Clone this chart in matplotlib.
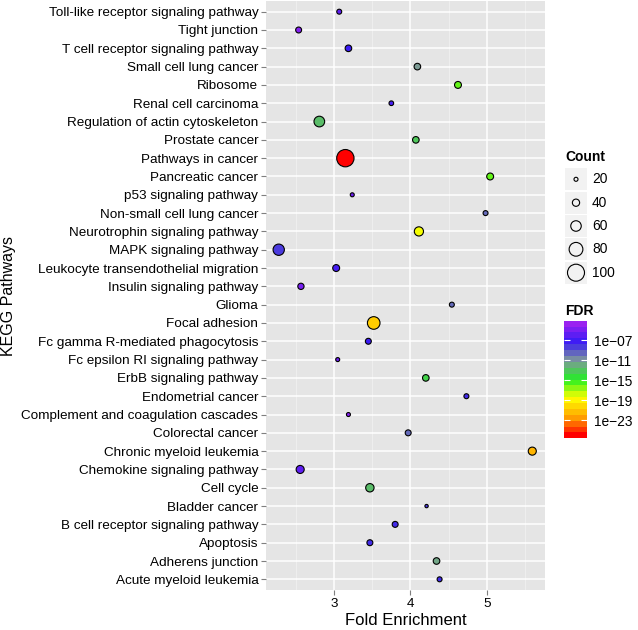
# Dot plot de rutas KEGG: Fold Enrichment vs ruta, tamaño = Count, color = FDR

import numpy as np
import matplotlib.pyplot as plt
from matplotlib.colors import LinearSegmentedColormap, LogNorm
import matplotlib.cm as cm
from matplotlib.ticker import NullLocator

plt.rcParams['font.family'] = ['Liberation Sans', 'DejaVu Sans']

# Datos (de arriba hacia abajo)
pathways = ['Toll-like receptor signaling pathway', 'Tight junction',
            'T cell receptor signaling pathway', 'Small cell lung cancer',
            'Ribosome', 'Renal cell carcinoma',
            'Regulation of actin cytoskeleton', 'Prostate cancer',
            'Pathways in cancer', 'Pancreatic cancer', 'p53 signaling pathway',
            'Non-small cell lung cancer', 'Neurotrophin signaling pathway',
            'MAPK signaling pathway', 'Leukocyte transendothelial migration',
            'Insulin signaling pathway', 'Glioma', 'Focal adhesion',
            'Fc gamma R-mediated phagocytosis', 'Fc epsilon RI signaling pathway',
            'ErbB signaling pathway', 'Endometrial cancer',
            'Complement and coagulation cascades', 'Colorectal cancer',
            'Chronic myeloid leukemia', 'Chemokine signaling pathway',
            'Cell cycle', 'Bladder cancer', 'B cell receptor signaling pathway',
            'Apoptosis', 'Adherens junction', 'Acute myeloid leukemia']
fold = [3.07, 2.54, 3.19, 4.09, 4.62, 3.75, 2.81, 4.07, 3.15, 5.04, 3.24,
        4.98, 4.11, 2.28, 3.03, 2.57, 4.54, 3.52, 3.45, 3.05, 4.20, 4.73,
        3.19, 3.97, 5.59, 2.56, 3.47, 4.21, 3.80, 3.47, 4.34, 4.38]
count = [26, 32, 36, 36, 38, 24, 61, 36, 102, 38, 20, 26, 52, 65, 38, 34,
         26, 73, 32, 20, 36, 26, 20, 32, 45, 45, 47, 16, 32, 32, 36, 26]
fdr = [3e-06, 1e-04, 1e-07, 1e-11, 1e-16, 3e-07, 3e-13, 1e-13, 3e-27, 1e-16,
       1e-05, 3e-10, 3e-19, 1e-08, 3e-07, 3e-05, 3e-10, 1e-21, 1e-07, 1e-05,
       3e-14, 3e-08, 1e-04, 3e-10, 1e-22, 3e-06, 3e-13, 1e-08, 3e-08, 3e-08,
       3e-12, 3e-08]
count_breaks = [20, 40, 60, 80, 100]
fdr_breaks = [1e-07, 1e-11, 1e-15, 1e-19, 1e-23]
fdr_labels = ['1e\u221207', '1e\u221211', '1e\u221215', '1e\u221219', '1e\u221223']

# Escalas
def tam(c):
    d_px = 4 + (np.asarray(c, dtype=float) - 20) * 0.1625
    return (d_px * 0.72) ** 2

cmap = LinearSegmentedColormap.from_list(
    'fdr', ['#FF0000', '#FFA500', '#FFFF00', '#22F022', '#7F9A98', '#3A1CF5', '#9A22F0'])
norm = LogNorm(vmin=10 ** -26.6, vmax=10 ** -3.1)

W, H = 638, 630
fig = plt.figure(figsize=(W / 100, H / 100), dpi=100)
ax = fig.add_axes([266 / W, 1 - 590.3 / H, (545 - 266) / W, (590.3 - 0.7) / H])

n = len(pathways)
ypos = np.arange(n)[::-1]
ax.set_facecolor('#E5E5E5')
ax.set_axisbelow(True)
ax.scatter(fold, ypos, s=tam(count), c=fdr, cmap=cmap, norm=norm,
           edgecolors='black', linewidths=0.8, zorder=3)

ax.set_xlim(2.114, 5.756)
ax.set_ylim(-0.6, n - 1 + 0.6)
ax.set_xticks([3, 4, 5])
ax.set_xticks([2.5, 3.5, 4.5, 5.5], minor=True)
ax.set_yticks(ypos)
ax.set_yticklabels(pathways)
ax.grid(which='major', color='white', linewidth=1.1)
ax.grid(which='minor', axis='x', color='#F2F2F2', linewidth=0.5)
for s in ax.spines.values():
    s.set_visible(False)
ax.tick_params(which='major', length=3.5, width=0.8, color='#7F7F7F',
               labelsize=9.7, pad=2, labelcolor='black')
ax.tick_params(which='minor', length=0)
ax.set_xlabel('Fold Enrichment', fontsize=12, labelpad=2)
ax.set_ylabel('KEGG Pathways', fontsize=11.5)
ax.yaxis.set_label_coords(-250 / 279, 0.5)

# Leyenda de tamaño (Count)
lax = fig.add_axes([0, 0, 1, 1])
lax.set_xlim(0, W)
lax.set_ylim(H, 0)
lax.axis('off')
lax.text(565, 157, 'Count', fontsize=10, fontweight='bold', va='center', ha='left')
ys = [179.3, 202.7, 226, 249.3, 272.7]
for yk, c in zip(ys, count_breaks):
    lax.add_patch(plt.Rectangle((565, yk - 11), 22, 22, facecolor='#F2F2F2',
                                edgecolor='none'))
    lax.scatter([576], [yk], s=tam([c]), facecolors='none', edgecolors='black',
                linewidths=0.8)
    lax.text(592, yk, str(c), fontsize=9.9, va='center', ha='left')

# Barra de color (FDR)
lax.text(565, 311, 'FDR', fontsize=10, fontweight='bold', va='center', ha='left')
cax = fig.add_axes([564 / W, 1 - 438.3 / H, 23 / W, (438.3 - 320.7) / H])
sm = cm.ScalarMappable(norm=norm, cmap=cmap.resampled(20))
cb = fig.colorbar(sm, cax=cax, ticks=fdr_breaks)
cb.set_ticklabels(fdr_labels)
cb.outline.set_visible(False)
cax.yaxis.set_minor_locator(NullLocator())
cax.tick_params(which='major', direction='in', color='white', length=4,
                width=0.8, left=True, right=True, labelsize=9.9, pad=5)

plt.savefig('out.png', dpi=100)
